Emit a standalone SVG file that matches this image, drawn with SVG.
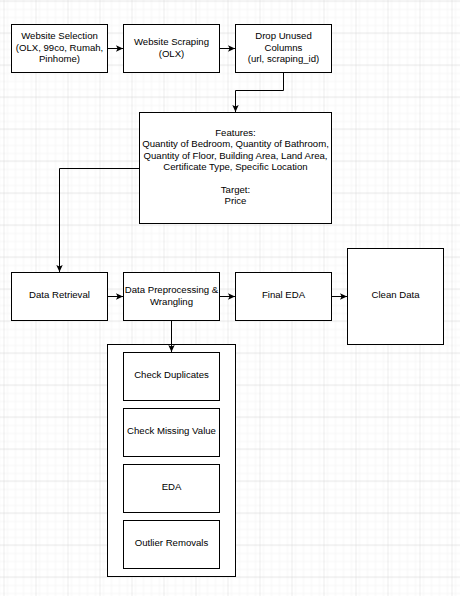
<svg xmlns="http://www.w3.org/2000/svg" width="460" height="596" viewBox="0 0 460 596">
  <defs>
    <pattern id="minor" width="8" height="8" patternUnits="userSpaceOnUse" x="3.5" y="0.5">
      <path d="M0 0H8M0 0V8" fill="none" stroke="#efefef" stroke-width="1"/>
    </pattern>
    <pattern id="major" width="32" height="32" patternUnits="userSpaceOnUse" x="3.5" y="0.5">
      <rect width="32" height="32" fill="url(#minor)"/>
      <path d="M0 0H32M0 0V32" fill="none" stroke="#d9d9d9" stroke-width="1"/>
    </pattern>
    <marker id="arr" markerWidth="8" markerHeight="8" refX="7" refY="4" orient="auto" markerUnits="userSpaceOnUse">
      <path d="M0 0.8L7 4L0 7.2L1.6 4Z" fill="#000"/>
    </marker>
    <style>
      .box{fill:#fff;stroke:#000;stroke-width:1}
      .lbl{font-family:"Liberation Sans",Arial,sans-serif;font-size:9.6px;fill:#000;text-anchor:middle}
      .edge{fill:none;stroke:#000;stroke-width:1}
    </style>
  </defs>

  <rect width="460" height="596" fill="#fff"/>
  <rect width="460" height="596" fill="url(#major)"/>

  <g id="website-selection">
    <rect class="box" x="11.5" y="24.5" width="96" height="48"/>
    <text class="lbl" x="59.5" y="39">Website Selection</text>
    <text class="lbl" x="59.5" y="50.5">(OLX, 99co, Rumah,</text>
    <text class="lbl" x="59.5" y="62">Pinhome)</text>
  </g>
  <g id="website-scraping">
    <rect class="box" x="123.5" y="24.5" width="96" height="48"/>
    <text class="lbl" x="171.5" y="45">Website Scraping</text>
    <text class="lbl" x="171.5" y="56.5">(OLX)</text>
  </g>
  <g id="drop-columns">
    <rect class="box" x="235.5" y="24.5" width="96" height="48"/>
    <text class="lbl" x="283.5" y="39">Drop Unused</text>
    <text class="lbl" x="283.5" y="50.5">Columns</text>
    <text class="lbl" x="283.5" y="62">(url, scraping_id)</text>
  </g>
  <g id="features">
    <rect class="box" x="139.5" y="112.5" width="192" height="111"/>
    <text class="lbl" x="235.5" y="136">Features:</text>
    <text class="lbl" x="235.5" y="147.3">Quantity of Bedroom, Quantity of Bathroom,</text>
    <text class="lbl" x="235.5" y="158.6">Quantity of Floor, Building Area, Land Area,</text>
    <text class="lbl" x="235.5" y="169.9">Certificate Type, Specific Location</text>
    <text class="lbl" x="235.5" y="192.5">Target:</text>
    <text class="lbl" x="235.5" y="203.8">Price</text>
  </g>
  <g id="data-retrieval">
    <rect class="box" x="11.5" y="272.5" width="96" height="48"/>
    <text class="lbl" x="59.5" y="298">Data Retrieval</text>
  </g>
  <g id="preprocessing">
    <rect class="box" x="123.5" y="272.5" width="96" height="48"/>
    <text class="lbl" x="171.5" y="293.3">Data Preprocessing &amp;</text>
    <text class="lbl" x="171.5" y="304.6">Wrangling</text>
  </g>
  <g id="final-eda">
    <rect class="box" x="235.5" y="272.5" width="96" height="48"/>
    <text class="lbl" x="283.5" y="298">Final EDA</text>
  </g>
  <g id="clean-data">
    <rect class="box" x="347.5" y="248.5" width="96" height="96"/>
    <text class="lbl" x="395.5" y="298">Clean Data</text>
  </g>
  <g id="preprocessing-steps">
    <rect class="box" x="107.5" y="344.5" width="128" height="232"/>
    <g id="check-duplicates">
      <rect class="box" x="123.5" y="352.5" width="96" height="48"/>
      <text class="lbl" x="171.5" y="377.8">Check Duplicates</text>
    </g>
    <g id="check-missing">
      <rect class="box" x="123.5" y="408.5" width="96" height="48"/>
      <text class="lbl" x="171.5" y="433.8">Check Missing Value</text>
    </g>
    <g id="eda">
      <rect class="box" x="123.5" y="464.5" width="96" height="48"/>
      <text class="lbl" x="171.5" y="489.8">EDA</text>
    </g>
    <g id="outlier-removals">
      <rect class="box" x="123.5" y="520.5" width="96" height="48"/>
      <text class="lbl" x="171.5" y="545.8">Outlier Removals</text>
    </g>
  </g>

  <g id="connectors">
    <path class="edge" d="M107.5 48.5H123" marker-end="url(#arr)"/>
    <path class="edge" d="M219.5 48.5H235" marker-end="url(#arr)"/>
    <path class="edge" d="M283.5 72.5V90.5H235.5V112" marker-end="url(#arr)"/>
    <path class="edge" d="M139.5 168.5H59.5V272" marker-end="url(#arr)"/>
    <path class="edge" d="M107.5 296.5H123" marker-end="url(#arr)"/>
    <path class="edge" d="M219.5 296.5H235" marker-end="url(#arr)"/>
    <path class="edge" d="M331.5 296.5H347" marker-end="url(#arr)"/>
    <path class="edge" d="M171.5 320.5V352" marker-end="url(#arr)"/>
  </g>
</svg>
